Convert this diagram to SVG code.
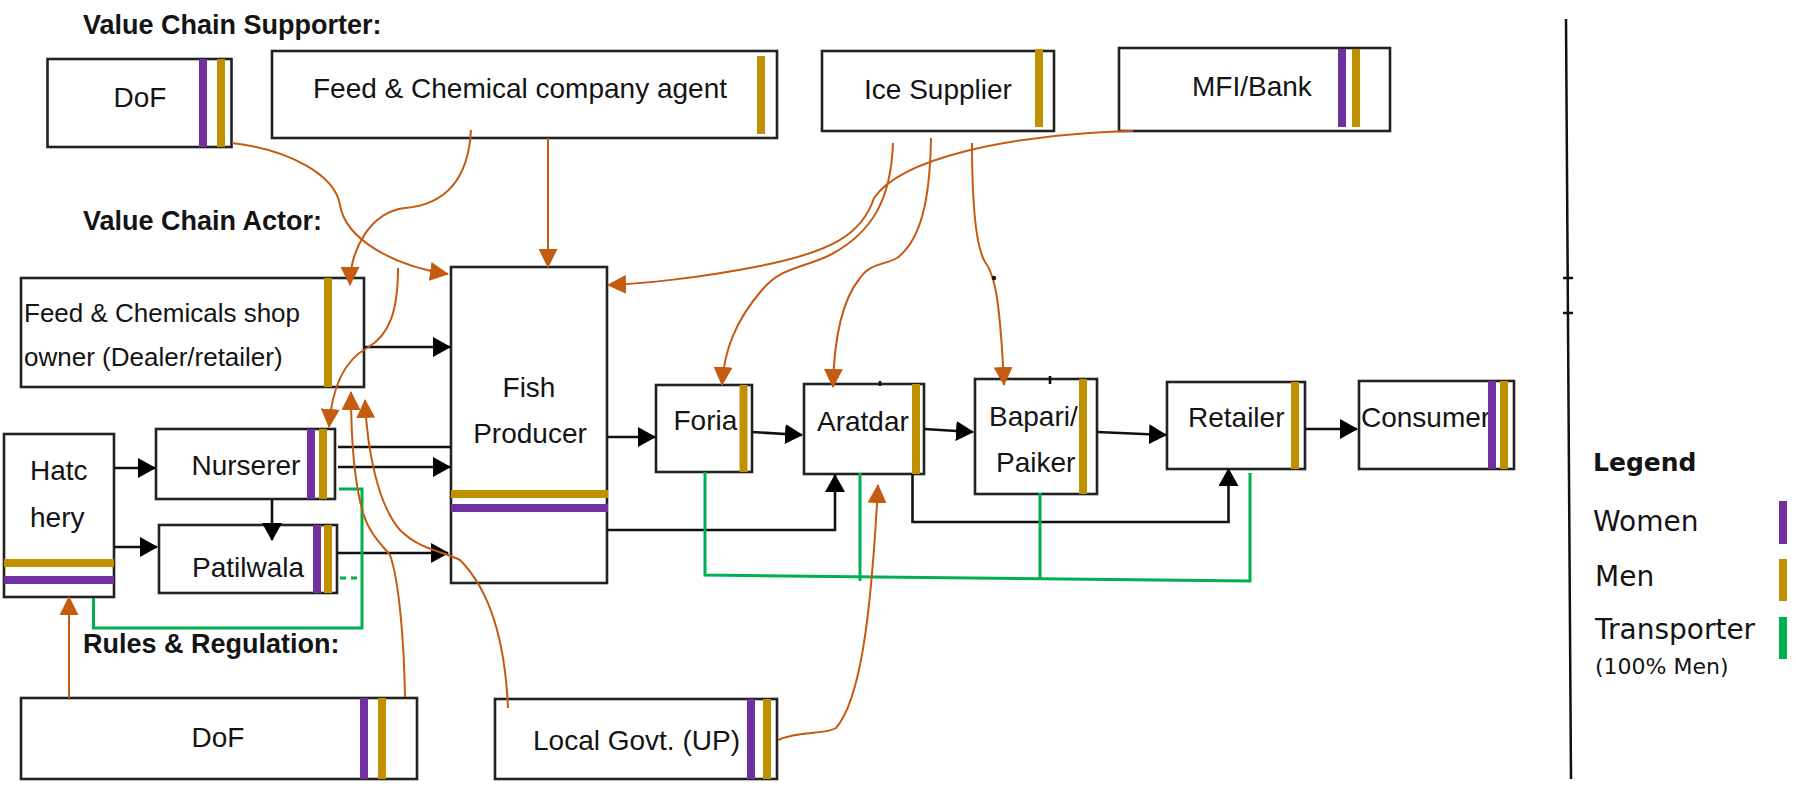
<svg xmlns="http://www.w3.org/2000/svg" width="1796" height="786" viewBox="0 0 1796 786">
  <defs>
    <style>
      .box { fill: #ffffff; stroke: #222222; stroke-width: 2.6; }
      .lbl { font-family: "Liberation Sans", Arial, sans-serif; font-size: 28px; fill: #141414; }
      .head { font-family: "Liberation Sans", Arial, sans-serif; font-size: 27px; font-weight: bold; fill: #141414; }
      .leg { font-family: "DejaVu Sans", Verdana, sans-serif; font-size: 28px; fill: #141414; }
      .women { fill: #7030A0; }
      .men { fill: #BF9000; }
      .trans { fill: #00B050; }
      .flow { fill: none; stroke: #111111; stroke-width: 2.6; }
      .transport { fill: none; stroke: #00B050; stroke-width: 3; }
      .support { fill: none; stroke: #C55A11; stroke-width: 2; }
    </style>
    <marker id="ahBlack" markerUnits="userSpaceOnUse" viewBox="0 0 18 20" markerWidth="18" markerHeight="20" refX="17" refY="10" orient="auto">
      <path d="M0,0 L18,10 L0,20 z" fill="#000000"/>
    </marker>
    <marker id="ahOrange" markerUnits="userSpaceOnUse" viewBox="0 0 19 19" markerWidth="19" markerHeight="19" refX="18" refY="9.5" orient="auto">
      <path d="M0,0 L19,9.5 L0,19 z" fill="#C55A11"/>
    </marker>
  </defs>

  <rect width="1796" height="786" fill="#ffffff"/>

  <!-- section headings -->
  <text class="head" x="83" y="34">Value Chain Supporter:</text>
  <text class="head" x="83" y="230">Value Chain Actor:</text>
  <text class="head" x="83" y="653">Rules &amp; Regulation:</text>

  <!-- supporters -->
  <g id="dof-support">
    <rect class="box" x="47.5" y="59" width="184" height="88"/>
    <text class="lbl" x="140" y="107" text-anchor="middle">DoF</text>
    <rect class="women" x="199" y="59" width="8" height="88"/>
    <rect class="men" x="217" y="59" width="8" height="88"/>
  </g>
  <g id="feed-company">
    <rect class="box" x="272" y="51" width="505" height="87"/>
    <text class="lbl" x="313" y="98">Feed &amp; Chemical company agent</text>
    <rect class="men" x="757" y="56" width="8" height="78"/>
  </g>
  <g id="ice-supplier">
    <rect class="box" x="822" y="51" width="232" height="80"/>
    <text class="lbl" x="864" y="99">Ice Supplier</text>
    <rect class="men" x="1035" y="49" width="8" height="78"/>
  </g>
  <g id="mfi-bank">
    <rect class="box" x="1119" y="48" width="271" height="83"/>
    <text class="lbl" x="1192" y="96">MFI/Bank</text>
    <rect class="women" x="1338" y="49" width="8" height="78"/>
    <rect class="men" x="1352" y="49" width="8" height="78"/>
  </g>

  <!-- actors -->
  <g id="shop-owner">
    <rect class="box" x="21" y="278" width="343" height="109"/>
    <text class="lbl" x="24" y="322" style="font-size:26px">Feed &amp; Chemicals shop</text>
    <text class="lbl" x="24" y="366" style="font-size:26px">owner (Dealer/retailer)</text>
    <rect class="men" x="324" y="278" width="8" height="109"/>
  </g>
  <g id="fish-producer">
    <rect class="box" x="451" y="267" width="156" height="316"/>
    <text class="lbl" x="529" y="397" text-anchor="middle">Fish</text>
    <text class="lbl" x="530" y="443" text-anchor="middle">Producer</text>
    <rect class="men" x="451" y="490" width="157" height="8"/>
    <rect class="women" x="451" y="504" width="157" height="8"/>
  </g>
  <g id="hatchery">
    <rect class="box" x="4" y="434" width="110" height="163"/>
    <text class="lbl" x="30" y="480">Hatc</text>
    <text class="lbl" x="30" y="527">hery</text>
    <rect class="men" x="4" y="559" width="110" height="8"/>
    <rect class="women" x="4" y="576" width="110" height="8"/>
  </g>
  <g id="nurserer">
    <rect class="box" x="156" y="429" width="179" height="70"/>
    <text class="lbl" x="191.5" y="475">Nurserer</text>
    <rect class="women" x="307" y="429" width="8" height="70"/>
    <rect class="men" x="319" y="429" width="8" height="70"/>
  </g>
  <g id="patilwala">
    <rect class="box" x="159" y="525" width="178" height="68"/>
    <text class="lbl" x="192" y="577">Patilwala</text>
    <rect class="women" x="313" y="525" width="8" height="68"/>
    <rect class="men" x="324" y="525" width="8" height="68"/>
  </g>
  <g id="foria">
    <rect class="box" x="656" y="385" width="96" height="87"/>
    <text class="lbl" x="673.5" y="430">Foria</text>
    <rect class="men" x="739.5" y="385" width="8" height="87"/>
  </g>
  <g id="aratdar">
    <rect class="box" x="804" y="384" width="120" height="90"/>
    <text class="lbl" x="817" y="431">Aratdar</text>
    <rect class="men" x="912" y="384" width="8" height="90"/>
  </g>
  <g id="bapari-paiker">
    <rect class="box" x="975" y="379" width="122" height="115"/>
    <text class="lbl" x="989" y="426">Bapari/</text>
    <text class="lbl" x="996" y="472">Paiker</text>
    <rect class="men" x="1079" y="379" width="8" height="115"/>
  </g>
  <g id="retailer">
    <rect class="box" x="1167" y="382" width="138" height="87"/>
    <text class="lbl" x="1188" y="427">Retailer</text>
    <rect class="men" x="1291" y="382" width="8" height="87"/>
  </g>
  <g id="consumer">
    <rect class="box" x="1359" y="381" width="155" height="88"/>
    <text class="lbl" x="1361" y="427">Consumer</text>
    <rect class="women" x="1488" y="381" width="8" height="88"/>
    <rect class="men" x="1500" y="381" width="8" height="88"/>
  </g>

  <!-- regulators -->
  <g id="dof-rules">
    <rect class="box" x="21" y="698" width="396" height="81"/>
    <text class="lbl" x="218" y="747" text-anchor="middle">DoF</text>
    <rect class="women" x="360" y="698" width="8" height="81"/>
    <rect class="men" x="378" y="698" width="8" height="81"/>
  </g>
  <g id="local-govt">
    <rect class="box" x="495" y="699" width="282" height="80"/>
    <text class="lbl" x="533" y="750">Local Govt. (UP)</text>
    <rect class="women" x="747" y="699" width="8" height="80"/>
    <rect class="men" x="763" y="699" width="8" height="80"/>
  </g>

  <!-- connectors -->
  <g id="connectors">
    <!-- product flow -->
    <g id="product-flow">
      <path class="flow" d="M364,347 H450" marker-end="url(#ahBlack)"/>
      <path class="flow" d="M338,447 H451"/>
      <path class="flow" d="M338,467 H450" marker-end="url(#ahBlack)"/>
      <path class="flow" d="M337,553 H448" marker-end="url(#ahBlack)"/>
      <path class="flow" d="M114,468 H155" marker-end="url(#ahBlack)"/>
      <path class="flow" d="M114,547 H157" marker-end="url(#ahBlack)"/>
      <path class="flow" d="M272,499 V540" marker-end="url(#ahBlack)"/>
      <path class="flow" d="M607,437 H655" marker-end="url(#ahBlack)"/>
      <path class="flow" d="M752,432 L802,435" marker-end="url(#ahBlack)"/>
      <path class="flow" d="M924,429 L973,432" marker-end="url(#ahBlack)"/>
      <path class="flow" d="M1097,432 L1166,435" marker-end="url(#ahBlack)"/>
      <path class="flow" d="M1305,429 H1357" marker-end="url(#ahBlack)"/>
      <path class="flow" d="M607,530 H835 V475" marker-end="url(#ahBlack)"/>
      <path class="flow" d="M912.5,474 V522 H1228.5 V469" marker-end="url(#ahBlack)"/>
      <path class="flow" d="M1050,376 V384 M880,381 V386" stroke-width="2"/>
    </g>

    <!-- transporters -->
    <g id="transport-links">
      <path class="transport" d="M93.5,598 V628 H362 V489 H339"/>
      <path class="transport" d="M340,578 H362" stroke-dasharray="6 5"/>
      <path class="transport" d="M705,472 V575 L1250,581 V473"/>
      <path class="transport" d="M860,473 V581"/>
      <path class="transport" d="M1040,493 V578"/>
    </g>

    <!-- support and regulation -->
    <g id="support-links">
      <path class="support" d="M232,143 C290,150 335,175 340,205 C345,238 392,266 448,274" marker-end="url(#ahOrange)"/>
      <path class="support" d="M471,130 C468,185 440,205 405,208 C370,212 350,250 350,285" marker-end="url(#ahOrange)"/>
      <path class="support" d="M548,138 V267" marker-end="url(#ahOrange)"/>
      <path class="support" d="M1133,131 C1000,135 900,160 874,198 C862,235 830,252 760,266 C700,278 640,284 608,285" stroke-width="3.5" marker-end="url(#ahOrange)"/>
      <path class="support" d="M893,143 C891,200 872,232 832,254 C805,268 782,266 762,290 C736,320 724,350 722,385" marker-end="url(#ahOrange)"/>
      <path class="support" d="M931,138 C930,200 921,240 897,258 C885,265 870,263 860,278 C842,300 834,340 833,387" marker-end="url(#ahOrange)"/>
      <path class="support" d="M972,143 C972,200 975,245 985,262 C995,275 1000,300 1004,385" marker-end="url(#ahOrange)"/>
      <circle cx="994" cy="278" r="2.2" fill="#111111"/>
      <path class="support" d="M398,268 C398,310 390,335 367,348 C345,360 332,385 329,427" marker-end="url(#ahOrange)"/>
      <path class="support" d="M405,697 C404,640 399,580 390,555 C382,545 370,535 363,513 C355,485 351,440 351,392" marker-end="url(#ahOrange)"/>
      <path class="support" d="M508,708 C505,640 490,590 460,560 C440,550 420,550 400,530 C378,505 367,450 365,400" marker-end="url(#ahOrange)"/>
      <path class="support" d="M69,698 V597" marker-end="url(#ahOrange)"/>
      <path class="support" d="M778,740 C800,730 825,735 836,728 C860,700 871,620 878,485" marker-end="url(#ahOrange)"/>
    </g>
  </g>

  <!-- legend -->
  <g id="legend">
    <path d="M1566,19 L1571,779 M1563,278 H1573 M1563,313 H1573" fill="none" stroke="#111111" stroke-width="2.5"/>
    <text class="leg" x="1593" y="471" style="font-size:25px;font-weight:bold">Legend</text>
    <text class="leg" x="1593" y="531">Women</text>
    <text class="leg" x="1595" y="586">Men</text>
    <text class="leg" x="1595" y="639">Transporter</text>
    <text class="leg" x="1595" y="674" style="font-size:22px">(100% Men)</text>
    <rect class="women" x="1779" y="501" width="8" height="43"/>
    <rect class="men" x="1779" y="559" width="8" height="42"/>
    <rect class="trans" x="1779" y="617" width="8" height="42"/>
  </g>
</svg>
